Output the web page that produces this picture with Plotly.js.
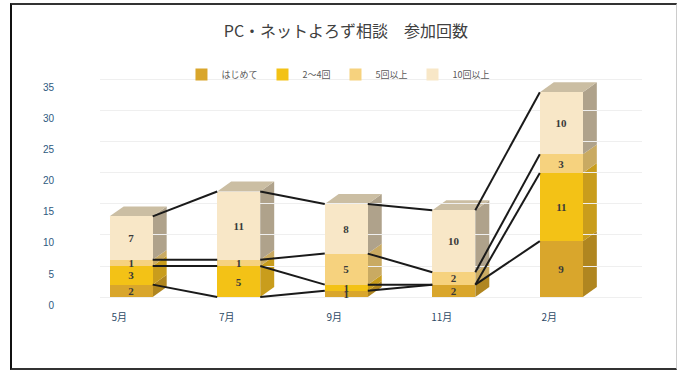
<!DOCTYPE html>
<html>
<head>
<meta charset="utf-8">
<script src="https://cdn.plot.ly/plotly-3.0.1.min.js"></script>
<style>
html,body{margin:0;padding:0;background:#fff;}
#wrap{position:relative;width:681px;height:371px;overflow:hidden;}
#chart{position:absolute;left:0;top:0;width:681px;height:371px;}
#frame{position:absolute;left:10px;top:3px;width:664px;height:363px;border-left:2px solid #111;border-top:2px solid #333;border-bottom:2px solid #333;border-right:1px solid #ccc;pointer-events:none;}
</style>
</head>
<body>
<div id="wrap"><div id="chart"></div><div id="frame"></div></div>
<script>
// Data
const categories = ['5月', '7月', '9月', '11月', '2月'];
const seriesNames = ['はじめて', '2～4回', '5回以上', '10回以上'];
const hajimete = [2, 0, 1, 2, 9];
const kai2to4 = [3, 5, 1, 0, 11];
const kai5plus = [1, 1, 5, 2, 3];
const kai10plus = [7, 11, 8, 10, 10];
const yTicks = [0, 5, 10, 15, 20, 25, 30, 35];

// Styles
const frontColors = ['#D9A62C', '#F3C216', '#F6D27E', '#F8E7C7'];
const sideColors = ['#B08620', '#C99D1C', '#C9AA62', '#AFA28B'];
const topColor = '#CBBEA3';
const W = 0.4, DX = 0.13, DY = 1.6;

const series = [hajimete, kai2to4, kai5plus, kai10plus];
const xIdx = categories.map((c, i) => i);

const traces = series.map((vals, k) => ({
  type: 'bar', name: seriesNames[k], x: xIdx, y: vals, width: W,
  marker: {color: frontColors[k], line: {width: 0}},
  text: vals.map(String), textposition: 'inside', insidetextanchor: 'middle',
  textangle: 0, constraintext: 'none',
  textfont: {family: 'Liberation Serif, DejaVu Serif, serif', size: 11, color: '#3a3a3a', weight: 'bold'},
  hoverinfo: 'skip'
}));

// cumulative tops
const cum = series.map((vals, k) => xIdx.map(i => series.slice(0, k + 1).reduce((s, a) => s + a[i], 0)));
const bases = series.map((vals, k) => xIdx.map(i => series.slice(0, k).reduce((s, a) => s + a[i], 0)));

// series lines
cum.forEach((tops, k) => {
  const xs = [], ys = [];
  for (let i = 0; i < xIdx.length - 1; i++) {
    xs.push(i + W / 2, i + 1 - W / 2, null);
    ys.push(tops[i], tops[i + 1], null);
  }
  traces.push({type: 'scatter', mode: 'lines', x: xs, y: ys, showlegend: false,
    line: {color: '#1a1a1a', width: 2}, hoverinfo: 'skip', connectgaps: false});
});

// 3D faces as shapes
const shapes = [];
series.forEach((vals, k) => {
  xIdx.forEach(i => {
    const y0 = bases[k][i], y1 = cum[k][i];
    if (y1 === y0) return;
    const xr = i + W / 2;
    shapes.push({type: 'path', xref: 'x', yref: 'y', layer: 'below',
      path: `M${xr},${y0} L${xr + DX},${y0 + DY} L${xr + DX},${y1 + DY} L${xr},${y1} Z`,
      fillcolor: sideColors[k], line: {width: 0}});
  });
});
xIdx.forEach(i => {
  const top = cum[3][i];
  const xl = i - W / 2, xr = i + W / 2;
  shapes.push({type: 'path', xref: 'x', yref: 'y', layer: 'below',
    path: `M${xl},${top} L${xl + DX},${top + DY} L${xr + DX},${top + DY} L${xr},${top} Z`,
    fillcolor: topColor, line: {width: 0}});
});

const layout = {
  width: 681, height: 371,
  margin: {l: 100, r: 39, t: 60, b: 69},
  paper_bgcolor: '#ffffff', plot_bgcolor: '#ffffff',
  barmode: 'stack', bargap: 0,
  title: {text: 'PC・ネットよろず相談　参加回数', x: 0.508, xanchor: 'center', y: 0.915, yanchor: 'middle',
    font: {family: 'Noto Sans CJK JP, sans-serif', size: 16, color: '#404040'}},
  xaxis: {range: [-0.29, 4.75], tickmode: 'array', tickvals: xIdx, ticktext: categories,
    showgrid: false, zeroline: false, showline: false, ticks: '',
    ticklabelshift: -12, ticklabelstandoff: 8,
    tickfont: {family: 'Noto Sans CJK JP, sans-serif', size: 10, color: '#2E4A66'}},
  yaxis: {range: [-0.8, 38.2], tickmode: 'array', tickvals: yTicks,
    showgrid: true, gridcolor: '#efefef', gridwidth: 1, zeroline: false, showline: false, ticks: '',
    ticklabelshift: 8, ticklabelstandoff: 45,
    tickfont: {family: 'Liberation Sans, sans-serif', size: 10, color: '#2E5A80'}},
  legend: {orientation: 'h', x: 0.44, xanchor: 'center', y: 0.94, yanchor: 'middle',
    traceorder: 'normal', font: {family: 'Noto Sans CJK JP, sans-serif', size: 9, color: '#595959'},
    itemwidth: 30, bgcolor: 'rgba(0,0,0,0)'},
  shapes: shapes,
  showlegend: true
};

Plotly.newPlot('chart', traces, layout, {staticPlot: true, displayModeBar: false});
</script>
</body>
</html>
